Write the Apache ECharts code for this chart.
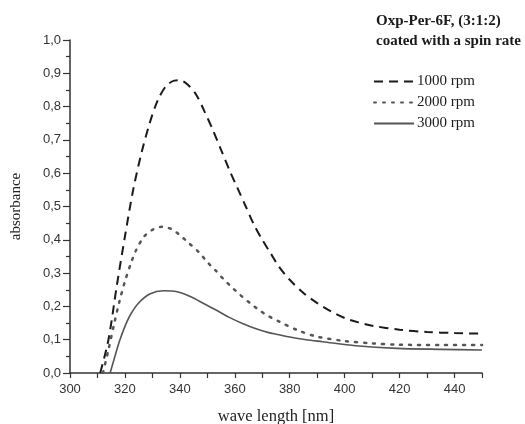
<!DOCTYPE html>
<html>
<head>
<meta charset="utf-8">
<script src="https://cdn.jsdelivr.net/npm/echarts@6/dist/echarts.min.js"></script>
<style>
html,body{margin:0;padding:0;background:#fff;}
#chart{width:525px;height:424px;}
</style>
</head>
<body>
<div id="chart"></div>
<script>
// Data
var seriesNames = ['1000 rpm', '2000 rpm', '3000 rpm'];

var wl1000  = [311, 314, 317, 320, 323, 326, 329, 332, 335, 338, 340, 343, 346, 349, 352, 355, 358, 361, 364, 367, 370, 373, 376, 380, 385, 390, 395, 400, 405, 410, 420, 430, 440, 450];
var abs1000 = [0, 0.10, 0.26, 0.41, 0.55, 0.66, 0.75, 0.82, 0.862, 0.878, 0.879, 0.865, 0.835, 0.785, 0.73, 0.67, 0.61, 0.555, 0.50, 0.445, 0.40, 0.36, 0.32, 0.28, 0.24, 0.21, 0.185, 0.165, 0.152, 0.142, 0.13, 0.123, 0.12, 0.118];

var wl2000  = [312, 314, 316, 318, 320, 322, 324, 327, 330, 333.5, 337, 340, 343, 347, 350, 353, 356, 359, 362, 366, 369, 372, 376, 383, 390, 400, 410, 420, 435, 450];
var abs2000 = [0, 0.07, 0.145, 0.215, 0.275, 0.325, 0.368, 0.41, 0.43, 0.439, 0.432, 0.414, 0.392, 0.362, 0.333, 0.308, 0.281, 0.257, 0.234, 0.207, 0.188, 0.172, 0.155, 0.128, 0.109, 0.096, 0.089, 0.085, 0.084, 0.084];

var wl3000  = [314.6, 316, 318, 320, 322, 325, 329, 334, 339, 344, 349, 353, 358, 363, 368, 372, 376, 380, 386, 392, 404, 419, 435, 450];
var abs3000 = [0, 0.04, 0.095, 0.14, 0.175, 0.21, 0.237, 0.247, 0.244, 0.229, 0.207, 0.19, 0.167, 0.148, 0.132, 0.122, 0.115, 0.108, 0.100, 0.094, 0.082, 0.074, 0.071, 0.069];

var xTicks = {min: 300, max: 450, interval: 20};
var yTicks = {min: 0, max: 1, interval: 0.1};

var titleText = 'Oxp-Per-6F, (3:1:2)\ncoated with a spin rate';
var xTitle = 'wave length [nm]';
var yTitle = 'absorbance';

function pairs(xs, ys) {
  return xs.map(function (x, i) { return [x, ys[i]]; });
}

var chart = echarts.init(document.getElementById('chart'), null, {renderer: 'canvas'});
var serif = '"Liberation Serif", "Times New Roman", serif';
var sans = '"Liberation Sans", Arial, sans-serif';

chart.setOption({
  animation: false,
  backgroundColor: '#fff',
  title: {
    text: titleText,
    left: 376,
    top: 11,
    padding: 0,
    textStyle: {fontFamily: serif, fontWeight: 'bold', fontSize: 15, lineHeight: 20, color: '#1a1a1a'}
  },
  legend: {
    orient: 'vertical',
    left: 373,
    top: 74,
    padding: 0,
    itemWidth: 40,
    itemHeight: 14,
    itemGap: 6,
    data: seriesNames,
    itemStyle: {opacity: 0},
    textStyle: {fontFamily: serif, fontSize: 15, color: '#1a1a1a', padding: [0, 0, 0, -2]}
  },
  grid: {left: 70, right: 43, top: 40, bottom: 51, containLabel: false, outerBoundsMode: 'none'},
  xAxis: {
    type: 'value',
    min: xTicks.min, max: xTicks.max, interval: xTicks.interval,
    name: xTitle, nameLocation: 'middle', nameGap: 35,
    nameTextStyle: {fontFamily: serif, fontSize: 16.5, color: '#222'},
    axisLine: {show: true, onZero: false, lineStyle: {color: '#333', width: 1.5}},
    axisTick: {show: true, inside: false, length: 5, lineStyle: {color: '#333', width: 1.2}},
    minorTick: {show: true, splitNumber: 2, length: 5, lineStyle: {color: '#333', width: 1.2}},
    splitLine: {show: false},
    axisLabel: {fontFamily: sans, fontSize: 13, color: '#333', margin: 10, showMaxLabel: false}
  },
  yAxis: {
    type: 'value',
    min: yTicks.min, max: yTicks.max, interval: yTicks.interval,
    name: yTitle, nameLocation: 'middle', nameGap: 46,
    nameTextStyle: {fontFamily: serif, fontSize: 15, color: '#222'},
    axisLine: {show: true, onZero: false, lineStyle: {color: '#333', width: 1.5}},
    axisTick: {show: true, inside: false, length: 7, lineStyle: {color: '#333', width: 1.2}},
    minorTick: {show: true, splitNumber: 2, length: 4, lineStyle: {color: '#333', width: 1.2}},
    splitLine: {show: false},
    axisLabel: {
      fontFamily: sans, fontSize: 13, color: '#333', margin: 9,
      formatter: function (v) { return v.toFixed(1).replace('.', ','); }
    }
  },
  series: [
    {
      name: seriesNames[0], type: 'line', smooth: 0.3, symbol: 'none',
      data: pairs(wl1000, abs1000),
      lineStyle: {color: '#1a1a1a', width: 2, type: [9, 6]},
      itemStyle: {color: '#1a1a1a'}
    },
    {
      name: seriesNames[1], type: 'line', smooth: 0.3, symbol: 'none',
      data: pairs(wl2000, abs2000),
      lineStyle: {color: '#555', width: 2.5, type: [2, 7], cap: 'round'},
      itemStyle: {color: '#555'}
    },
    {
      name: seriesNames[2], type: 'line', smooth: 0.3, symbol: 'none',
      data: pairs(wl3000, abs3000),
      lineStyle: {color: '#555', width: 1.6, type: 'solid'},
      itemStyle: {color: '#555'}
    }
  ]
});
</script>
</body>
</html>
